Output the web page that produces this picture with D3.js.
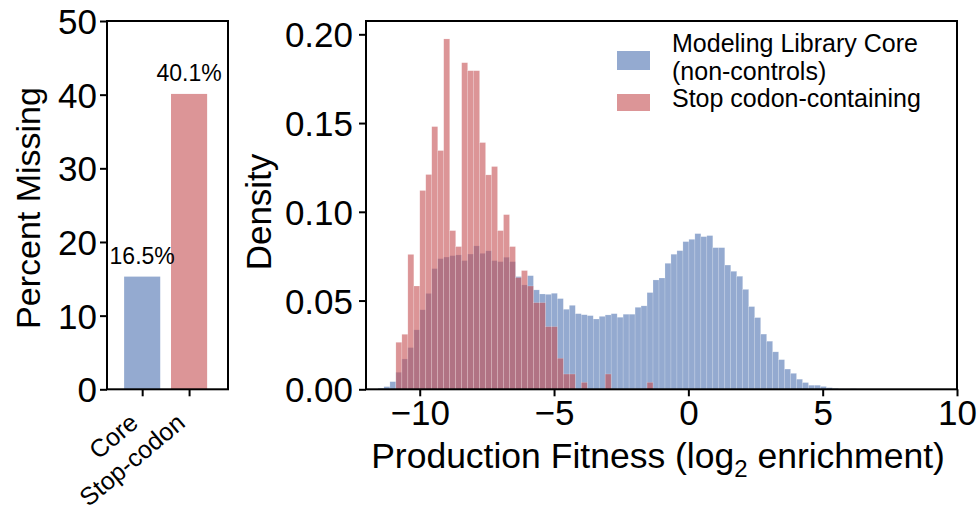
<!DOCTYPE html>
<html>
<head>
<meta charset="utf-8">
<script src="https://cdn.jsdelivr.net/npm/d3@7"></script>
<style>
  body { margin: 0; background: #fff; }
  text { font-family: "Liberation Sans", Arial, sans-serif; fill: #000; }
</style>
</head>
<body>
<div id="chart"></div>
<script>
// ---- data ----
const groups = ["Core", "Stop-codon"];
const missingPct = [15.3, 40.1];
const missingLabels = ["16.5%", "40.1%"];
const pctTicks = [0, 10, 20, 30, 40, 50];

// shared histogram bins (log2 enrichment)
const binStart = -11.555;
const binWidth = 0.2226;
const coreDensity = [
  0.0006, 0.0015, 0.0043, 0.0096, 0.0171, 0.0235, 0.0335, 0.0448, 0.054, 0.068, 0.0736, 0.0745,
  0.0753, 0.0757, 0.0725, 0.0762, 0.0808, 0.0766, 0.078, 0.0725, 0.0719, 0.0744, 0.0719,
  0.0635, 0.0588, 0.064, 0.056, 0.0537, 0.0535, 0.0541, 0.0511, 0.0451, 0.0473,
  0.0426, 0.042, 0.0415, 0.0396, 0.0411, 0.0419, 0.0426, 0.0406, 0.0423, 0.0423,
  0.0462, 0.047, 0.0545, 0.0616, 0.0627, 0.071, 0.0761, 0.0781, 0.0832,
  0.0845, 0.0877, 0.086, 0.0866, 0.0798, 0.0798, 0.070, 0.0665, 0.0637, 0.0563, 0.0466,
  0.0404, 0.0311, 0.0271, 0.0211, 0.0167, 0.0114, 0.009, 0.0057, 0.0038, 0.0023, 0.0023,
  0.0016, 0.0009, 0.0005, 0.0002, 0.0001, 0.0003
];
const stopDensity = [
  0, 0, 0,
  0.0265, 0.031, 0.076, 0.0582, 0.112, 0.121, 0.148, 0.1345, 0.1974,
  0.0894, 0.0804, 0.184, 0.1795, 0.1795, 0.139, 0.1208, 0.1255, 0.0894, 0.0984, 0.0804,
  0.0629, 0.0669, 0.0582, 0.0488, 0.0488, 0.0353, 0.0353, 0.0175, 0.0086, 0.0086,
  0, 0.0039, 0, 0, 0, 0.0086, 0, 0, 0, 0,
  0, 0, 0.0039, 0, 0, 0, 0, 0, 0,
  0, 0, 0, 0, 0, 0, 0, 0, 0, 0, 0, 0, 0, 0,
  0, 0, 0, 0, 0, 0, 0, 0, 0, 0, 0, 0, 0, 0
];
const fitnessTicks = [-10, -5, 0, 5, 10];
const densityTicks = [0, 0.05, 0.10, 0.15, 0.20];
const legendLabels = [["Modeling Library Core", "(non-controls)"], ["Stop codon-containing"]];

const colors = ["#4C72B0", "#C44E52"];
const alpha = 0.6;

const W = 979, H = 515;
const svg = d3.select("#chart").append("svg")
  .attr("width", W).attr("height", H)
  .style("display", "block");

svg.append("rect").attr("width", W).attr("height", H).attr("fill", "#fff");

// ---------- left panel: percent missing ----------
const L = { left: 107, right: 228, top: 21, bottom: 389.3 };
const xCat = d3.scaleLinear().domain([-0.75, 1.83]).range([L.left, L.right]);
const yPct = d3.scaleLinear().domain([0, 50]).range([L.bottom, L.top]);
const barW = 0.77;

const left = svg.append("g");

left.selectAll("rect.bar")
  .data(missingPct)
  .enter()
  .append("rect")
  .attr("class", "bar")
  .attr("x", (_, i) => xCat(i - barW / 2))
  .attr("width", (_, i) => xCat(i + barW / 2) - xCat(i - barW / 2))
  .attr("y", (d) => yPct(d))
  .attr("height", (d) => yPct(0) - yPct(d))
  .attr("fill", (_, i) => colors[i])
  .attr("fill-opacity", alpha);

left.selectAll("text.val")
  .data(missingPct)
  .enter()
  .append("text")
  .attr("class", "val")
  .attr("x", (_, i) => xCat(i))
  .attr("y", (d) => yPct(d + 1.7))
  .attr("text-anchor", "middle")
  .style("font-size", "23px")
  .text((_, i) => missingLabels[i]);

const yAxisL = left.append("g")
  .attr("transform", `translate(${L.left},0)`)
  .call(d3.axisLeft(yPct).tickValues(pctTicks).tickSize(7).tickPadding(3).tickSizeOuter(0));
yAxisL.select(".domain").remove();
yAxisL.selectAll("text").style("font-size", "35px").attr("dy", "0.36em");

const xAxisL = left.append("g")
  .attr("transform", `translate(0,${L.bottom})`)
  .call(d3.axisBottom(xCat).tickValues([0, 1]).tickFormat((i) => groups[i]).tickSize(7).tickSizeOuter(0));
xAxisL.select(".domain").remove();
xAxisL.selectAll("text")
  .style("font-size", "25px")
  .attr("text-anchor", "end")
  .attr("dy", 0)
  .attr("y", 0)
  .attr("transform", "translate(-3,36) rotate(-40)");

left.append("rect")
  .attr("x", L.left).attr("y", L.top)
  .attr("width", L.right - L.left).attr("height", L.bottom - L.top)
  .attr("fill", "none").attr("stroke", "#000").attr("stroke-width", 2);

left.append("text")
  .attr("transform", `translate(40,208) rotate(-90)`)
  .attr("text-anchor", "middle")
  .style("font-size", "34px")
  .text("Percent Missing");

// ---------- right panel: fitness histograms ----------
const R = { left: 366, right: 957, top: 21, bottom: 389.3 };
const xFit = d3.scaleLinear().domain([-12, 10]).range([R.left, R.right]);
const yDen = d3.scaleLinear().domain([0, 0.2075]).range([R.bottom, R.top]);

const right = svg.append("g");

const drawHist = (values, color) => {
  const bins = values
    .map((v, i) => ({ x0: binStart + i * binWidth, x1: binStart + (i + 1) * binWidth, v }))
    .filter((b) => b.v > 0);
  right.append("g")
    .selectAll("rect")
    .data(bins)
    .enter()
    .append("rect")
    .attr("x", (b) => xFit(b.x0))
    .attr("width", (b) => xFit(b.x1) - xFit(b.x0))
    .attr("y", (b) => yDen(b.v))
    .attr("height", (b) => yDen(0) - yDen(b.v))
    .attr("fill", color)
    .attr("fill-opacity", alpha)
    .attr("stroke", "#fff")
    .attr("stroke-opacity", 0.35)
    .attr("stroke-width", 0.5);
};
drawHist(coreDensity, colors[0]);
drawHist(stopDensity, colors[1]);

const yAxisR = right.append("g")
  .attr("transform", `translate(${R.left},0)`)
  .call(d3.axisLeft(yDen).tickValues(densityTicks).tickFormat(d3.format(".2f")).tickSize(7).tickPadding(6).tickSizeOuter(0));
yAxisR.select(".domain").remove();
yAxisR.selectAll("text").style("font-size", "35px").attr("dy", "0.36em");

const xAxisR = right.append("g")
  .attr("transform", `translate(0,${R.bottom})`)
  .call(d3.axisBottom(xFit).tickValues(fitnessTicks).tickSize(7).tickPadding(5).tickSizeOuter(0));
xAxisR.select(".domain").remove();
xAxisR.selectAll("text").style("font-size", "35px").attr("dy", "0.69em");

right.append("rect")
  .attr("x", R.left).attr("y", R.top)
  .attr("width", R.right - R.left).attr("height", R.bottom - R.top)
  .attr("fill", "none").attr("stroke", "#000").attr("stroke-width", 2);

svg.selectAll(".tick line").attr("stroke", "#000").attr("stroke-width", 2);

right.append("text")
  .attr("transform", `translate(271,212) rotate(-90)`)
  .attr("text-anchor", "middle")
  .style("font-size", "35px")
  .text("Density");

const xTitle = right.append("text")
  .attr("x", 658)
  .attr("y", 468)
  .attr("text-anchor", "middle")
  .style("font-size", "35.5px");
xTitle.append("tspan").text("Production Fitness (log");
xTitle.append("tspan").attr("dy", 9).style("font-size", "24px").text("2");
xTitle.append("tspan").attr("dy", -9).text(" enrichment)");

// legend
const legend = right.append("g").attr("transform", "translate(617,0)");
const legendRows = [
  { y: 51, h: 19, lines: legendLabels[0], base: 52 },
  { y: 94, h: 17, lines: legendLabels[1], base: 106.5 }
];
legendRows.forEach((row, i) => {
  legend.append("rect")
    .attr("x", 0).attr("y", row.y)
    .attr("width", 33).attr("height", row.h)
    .attr("fill", colors[i]).attr("fill-opacity", alpha);
  row.lines.forEach((line, j) => {
    legend.append("text")
      .attr("x", 55)
      .attr("y", row.base + j * 27.5)
      .style("font-size", "25px")
      .text(line);
  });
});
</script>
</body>
</html>
